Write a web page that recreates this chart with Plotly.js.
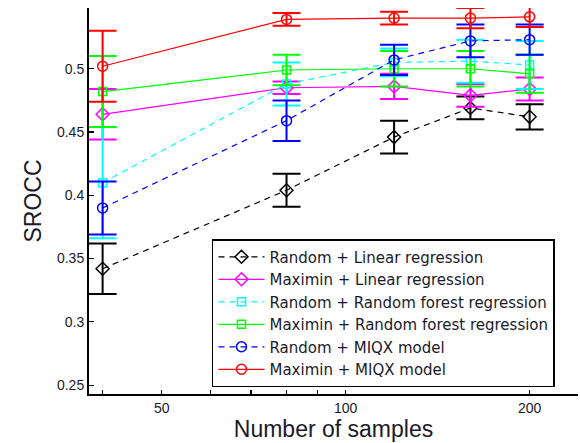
<!DOCTYPE html>
<html>
<head>
<meta charset="utf-8">
<script src="https://cdn.plot.ly/plotly-3.0.1.min.js"></script>
<style>html,body{margin:0;padding:0;background:#fff;}#chart{width:580px;height:443px;}</style>
</head>
<body>
<div id="chart"></div>
<script>
const samples = [40, 80, 120, 160, 200];

const seriesNames = [
  "Random + Linear regression",
  "Maximin + Linear regression",
  "Random + Random forest regression",
  "Maximin + Random forest regression",
  "Random + MIQX model",
  "Maximin + MIQX model"
];

const randomLinear      = [0.342, 0.404, 0.446, 0.469, 0.462];
const randomLinearErr   = [0.020, 0.013, 0.013, 0.009, 0.010];
const maximinLinear     = [0.464, 0.485, 0.486, 0.479, 0.484];
const maximinLinearErr  = [0.020, 0.005, 0.010, 0.009, 0.009];
const randomRF          = [0.410, 0.488, 0.505, 0.506, 0.503];
const randomRFErr       = [0.044, 0.017, 0.011, 0.017, 0.019];
const maximinRF         = [0.482, 0.499, 0.500, 0.500, 0.496];
const maximinRFErr      = [0.028, 0.012, 0.014, 0.014, 0.015];
const randomMIQX        = [0.390, 0.459, 0.507, 0.522, 0.523];
const randomMIQXErr     = [0.021, 0.016, 0.012, 0.013, 0.012];
const maximinMIQX       = [0.502, 0.539, 0.540, 0.540, 0.541];
const maximinMIQXErr    = [0.028, 0.005, 0.005, 0.008, 0.008];

const xTickVals = [40, 50, 60, 70, 80, 90, 100, 200];
const xTickText = ["", "50", "", "", "", "", "100", "200"];
const yTickVals = [0.25, 0.3, 0.35, 0.4, 0.45, 0.5];
const yTickText = ["0.25", "0.3", "0.35", "0.4", "0.45", "0.5"];

const values = [randomLinear, maximinLinear, randomRF, maximinRF, randomMIQX, maximinMIQX];
const errors = [randomLinearErr, maximinLinearErr, randomRFErr, maximinRFErr, randomMIQXErr, maximinMIQXErr];
const colors = ["#000000", "#ff00ff", "#00ffff", "#00ff00", "#0000ff", "#ff0000"];
const symbols = ["diamond-open", "diamond-open", "square-open", "square-open", "circle-open", "circle-open"];
const dashes = ["6px,5px", "solid", "6px,5px", "solid", "6px,5px", "solid"];

const traces = values.map((v, i) => ({
  x: samples,
  y: v,
  name: seriesNames[i],
  type: "scatter",
  mode: "lines+markers",
  line: {color: colors[i], width: 1.2, dash: dashes[i]},
  marker: {symbol: symbols[i], size: symbols[i] === "square-open" ? 8 : 10, color: colors[i], line: {color: colors[i], width: 1.5}},
  error_y: {type: "data", array: errors[i], visible: true, color: colors[i], thickness: 2, width: 14}
}));

const layout = {
  width: 580, height: 443,
  margin: {l: 89, r: 2, t: 8, b: 49},
  paper_bgcolor: "#ffffff",
  plot_bgcolor: "#ffffff",
  font: {family: "Liberation Sans, Arial, sans-serif", color: "#1a1a2a"},
  showlegend: true,
  legend: {
    x: 0.2515, y: 0.018, xanchor: "left", yanchor: "bottom",
    bgcolor: "#ffffff", bordercolor: "#000000", borderwidth: 1.5,
    font: {size: 15, color: "#1a1a2a", family: "DejaVu Sans, sans-serif"},
    itemwidth: 46, tracegroupgap: 0
  },
  xaxis: {
    type: "log",
    range: [Math.log10(38), Math.log10(240)],
    tickvals: xTickVals, ticktext: xTickText,
    ticks: "inside", ticklen: 4, tickwidth: 1.2, tickcolor: "#000",
    showline: true, linecolor: "#000", linewidth: 2,
    showgrid: false, zeroline: false,
    tickfont: {size: 14},
    title: {text: "Number of samples", font: {size: 23, color: "#1a1a2a"}, standoff: 6}
  },
  yaxis: {
    range: [0.243, 0.548],
    tickvals: yTickVals, ticktext: yTickText,
    ticks: "inside", ticklen: 5, tickwidth: 1.2, tickcolor: "#000",
    showline: true, linecolor: "#000", linewidth: 2,
    showgrid: false, zeroline: false,
    tickfont: {size: 14},
    title: {text: "SROCC", font: {size: 23, color: "#1a1a2a"}, standoff: 9}
  }
};

Plotly.newPlot("chart", traces, layout, {displayModeBar: false, staticPlot: true});
</script>
</body>
</html>
